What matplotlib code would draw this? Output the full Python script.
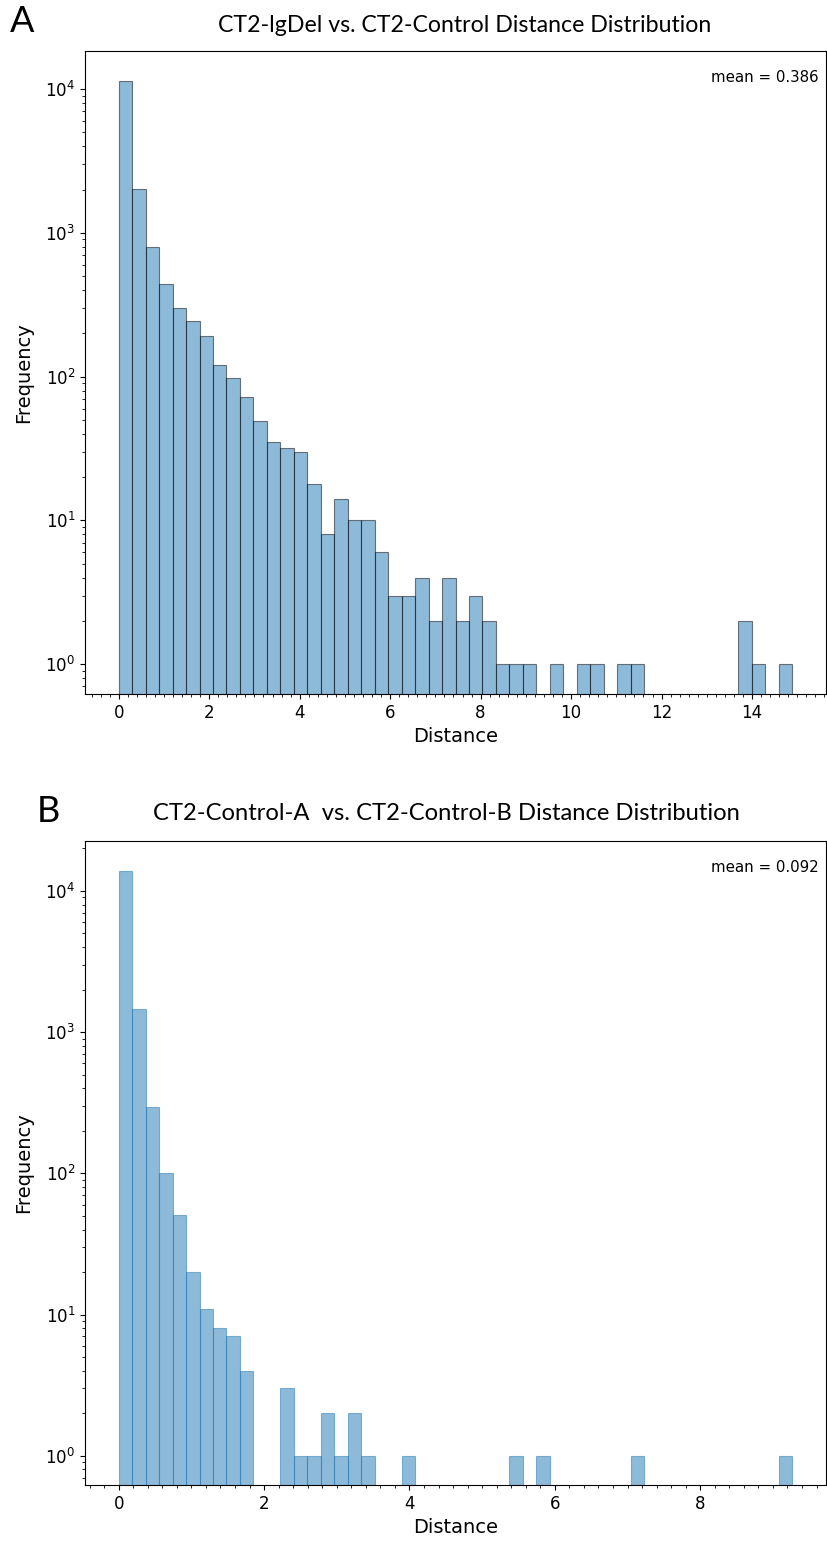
import matplotlib.pyplot as plt
import numpy as np
from matplotlib.ticker import MultipleLocator

# Panel A: CT2-lgDel vs CT2-Control, 50 bins up to ~14.89
a_max = 14.89
a_counts = [11400, 2010, 795, 440, 298, 243, 193, 121, 98, 72,
            49, 35, 32, 30, 18, 8, 14, 10, 10, 6,
            3, 3, 4, 2, 4, 2, 3, 2, 1, 1,
            1, 0, 1, 0, 1, 1, 0, 1, 1, 0,
            0, 0, 0, 0, 0, 0, 2, 1, 0, 1]
a_mean = 0.386

# Panel B: CT2-Control-A vs CT2-Control-B, 50 bins up to ~9.267
b_max = 9.267
b_counts = [13900, 1470, 294, 101, 51, 20, 11, 8, 7, 4,
            0, 0, 3, 1, 1, 2, 1, 2, 1, 0,
            0, 1, 0, 0, 0, 0, 0, 0, 0, 1,
            0, 1, 0, 0, 0, 0, 0, 0, 1, 0,
            0, 0, 0, 0, 0, 0, 0, 0, 0, 1]
b_mean = 0.092

titles = ['CT2-lgDel vs. CT2-Control Distance Distribution',
          'CT2-Control-A  vs. CT2-Control-B Distance Distribution']
letters = ['A', 'B']

fig = plt.figure(figsize=(8.27, 15.49), dpi=100)
W, H = 827, 1549

def box(l, t, r, b):
    return [l / W, 1 - b / H, (r - l) / W, (b - t) / H]

axA = fig.add_axes(box(85, 51, 826, 694))
axB = fig.add_axes(box(85, 841, 826, 1485))

panels = [(axA, a_counts, a_max, a_mean, 'black', (0.62, 18400)),
          (axB, b_counts, b_max, b_mean, '#1f77b4', (0.62, 22600))]

for ax, counts, xmax, mean, ec, ylim in panels:
    edges = np.linspace(0, xmax, len(counts) + 1)
    ax.hist(edges[:-1], bins=edges, weights=counts, log=True,
            color='#1f77b4', alpha=0.5, edgecolor=ec, linewidth=0.8)
    ax.set_xlim(-0.05 * xmax, 1.05 * xmax)
    ax.set_ylim(*ylim)
    ax.xaxis.set_major_locator(MultipleLocator(2))
    ax.xaxis.set_minor_locator(MultipleLocator(0.2))
    ax.tick_params(labelsize=12)
    ax.set_xlabel('Distance', fontsize=14)
    ax.set_ylabel('Frequency', fontsize=14)
    ax.yaxis.set_label_coords(-0.07, 0.5)
    ax.text(0.99, 0.97, 'mean = %.3f' % mean, transform=ax.transAxes,
            ha='right', va='top', fontsize=10.8)

fig.text(465 / W, 1 - 26 / H, titles[0], ha='center', va='center',
         fontsize=16.7, family='Lato')
fig.text(446 / W, 1 - 813 / H, titles[1], ha='center', va='center',
         fontsize=17.1, family='Lato')
fig.text(10 / W, 1 - 22 / H, letters[0], ha='left', va='center',
         fontsize=26, family='Lato')
fig.text(37 / W, 1 - 812 / H, letters[1], ha='left', va='center',
         fontsize=26, family='Lato')

fig.savefig('out.png', dpi=100)
